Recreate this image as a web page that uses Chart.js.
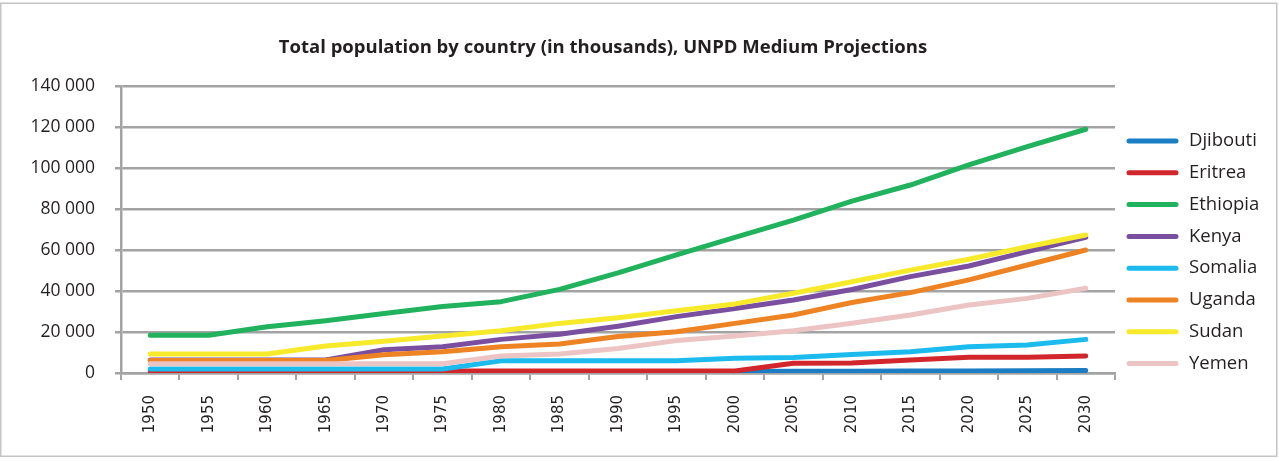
<!DOCTYPE html>
<html>
<head>
<meta charset="utf-8">
<script src="https://cdn.jsdelivr.net/npm/chart.js@4/dist/chart.umd.min.js"></script>
<style>
  html, body { margin: 0; padding: 0; background: #ffffff; }
  #wrap { position: relative; width: 1279px; height: 461px; }
</style>
</head>
<body>
<div id="wrap"><canvas id="c" width="1279" height="461"></canvas></div>
<script>
const chartTitle = "Total population by country (in thousands), UNPD Medium Projections";
const years = ["1950","1955","1960","1965","1970","1975","1980","1985","1990","1995","2000","2005","2010","2015","2020","2025","2030"];
const yTicks = [0, 20000, 40000, 60000, 80000, 100000, 120000, 140000];

const djibouti = [60, 70, 80, 110, 160, 220, 340, 400, 560, 620, 730, 800, 880, 950, 1030, 1100, 1170];
const eritrea  = [1000, 1000, 1000, 1000, 1000, 1000, 1000, 1000, 1000, 1000, 1000, 4800, 4900, 6300, 7700, 7700, 8300];
const ethiopia = [18400, 18400, 22600, 25500, 29000, 32400, 34800, 40800, 48800, 57600, 66200, 74600, 83800, 91700, 101500, 110400, 118900];
const kenya    = [6300, 6300, 6300, 6300, 11300, 12800, 16400, 18900, 22800, 27500, 31500, 35600, 40700, 47000, 52200, 59200, 66200];
const somalia  = [2000, 2000, 2000, 2000, 2000, 2000, 6000, 6000, 6000, 6000, 7200, 7600, 9000, 10400, 12800, 13700, 16400];
const uganda   = [6100, 6100, 6100, 6100, 8900, 10400, 12800, 14100, 17800, 20100, 24200, 28300, 34400, 39200, 45400, 52700, 60000];
const sudan    = [9300, 9300, 9300, 13200, 15500, 18000, 20600, 24200, 27000, 30400, 33700, 38900, 44500, 50200, 55500, 61600, 67300];
const yemen    = [4500, 4500, 4500, 4500, 4500, 4500, 8300, 9300, 12000, 15800, 18000, 20600, 24300, 28300, 33200, 36400, 41300];

const seriesNames  = ["Djibouti", "Eritrea", "Ethiopia", "Kenya", "Somalia", "Uganda", "Sudan", "Yemen"];
const seriesValues = [djibouti, eritrea, ethiopia, kenya, somalia, uganda, sudan, yemen];
const seriesColors = ["#1b7dc4", "#d2262d", "#20b25c", "#7a4f9f", "#1bbbee", "#ee8324", "#f7ea2b", "#ecc4c4"];

const GRID = "#a3a3a3";
const TEXT = "#231f20";

const datasets = seriesNames.map((name, i) => ({
  label: name,
  data: seriesValues[i],
  borderColor: seriesColors[i],
  backgroundColor: seriesColors[i],
  borderWidth: 5,
  tension: 0,
  pointRadius: 0,
  pointHoverRadius: 0,
  fill: false,
  borderCapStyle: 'round',
  borderJoinStyle: 'round',
  order: seriesNames.length - i
}));

const framePlugin = {
  id: 'frameTitleLegend',
  beforeDraw(chart) {
    const ctx = chart.ctx;
    ctx.save();
    ctx.fillStyle = '#ffffff';
    ctx.fillRect(0, 0, chart.width, chart.height);
    ctx.strokeStyle = '#c4c4c4';
    ctx.lineWidth = 1.5;
    ctx.strokeRect(0.75, 3.25, 1276, 453);
    ctx.restore();
  },
  afterDraw(chart) {
    const ctx = chart.ctx;
    ctx.save();
    // title
    ctx.fillStyle = TEXT;
    ctx.font = "bold 18.5px 'Open Sans'";
    ctx.textAlign = 'center';
    ctx.textBaseline = 'middle';
    ctx.fillText(chartTitle, 603, 48);
    // legend
    ctx.font = "18.5px 'Open Sans'";
    ctx.textAlign = 'left';
    chart.data.datasets.forEach((ds, i) => {
      const y = 141 + i * 31.8;
      ctx.strokeStyle = ds.borderColor;
      ctx.lineWidth = 5;
      ctx.lineCap = 'round';
      ctx.beginPath();
      ctx.moveTo(1129, y);
      ctx.lineTo(1176, y);
      ctx.stroke();
      ctx.fillStyle = TEXT;
      ctx.fillText(ds.label, 1189, y);
    });
    ctx.restore();
  }
};

new Chart(document.getElementById('c'), {
  type: 'line',
  data: { labels: years, datasets },
  options: {
    responsive: false,
    animation: false,
    events: [],
    layout: { padding: { top: 86, right: 164, left: 0, bottom: 0 } },
    plugins: {
      legend: { display: false },
      title: { display: false },
      tooltip: { enabled: false }
    },
    scales: {
      x: {
        type: 'category',
        offset: true,
        grid: {
          display: true,
          drawOnChartArea: false,
          drawTicks: true,
          offset: true,
          tickLength: 7,
          color: GRID,
          lineWidth: 2
        },
        border: { display: true, color: GRID, width: 2.5 },
        ticks: {
          minRotation: 90,
          maxRotation: 90,
          autoSkip: false,
          padding: 15,
          color: TEXT,
          font: { family: "'DejaVu Sans'", size: 15 }
        },
        afterFit(scale) { scale.height = 88; }
      },
      y: {
        min: 0,
        max: 140000,
        afterBuildTicks(scale) { scale.ticks = yTicks.map(v => ({ value: v })); },
        grid: {
          color: GRID,
          lineWidth: 2.5,
          drawTicks: true,
          tickLength: 6
        },
        border: { display: true, color: GRID, width: 2.5 },
        ticks: {
          padding: 20,
          color: TEXT,
          font: { family: "'Open Sans'", size: 17.5 },
          callback: (v) => String(v).replace(/\B(?=(\d{3})+(?!\d))/g, ' ')
        },
        afterFit(scale) { scale.width = 121; }
      }
    }
  },
  plugins: [framePlugin]
});
</script>
</body>
</html>
